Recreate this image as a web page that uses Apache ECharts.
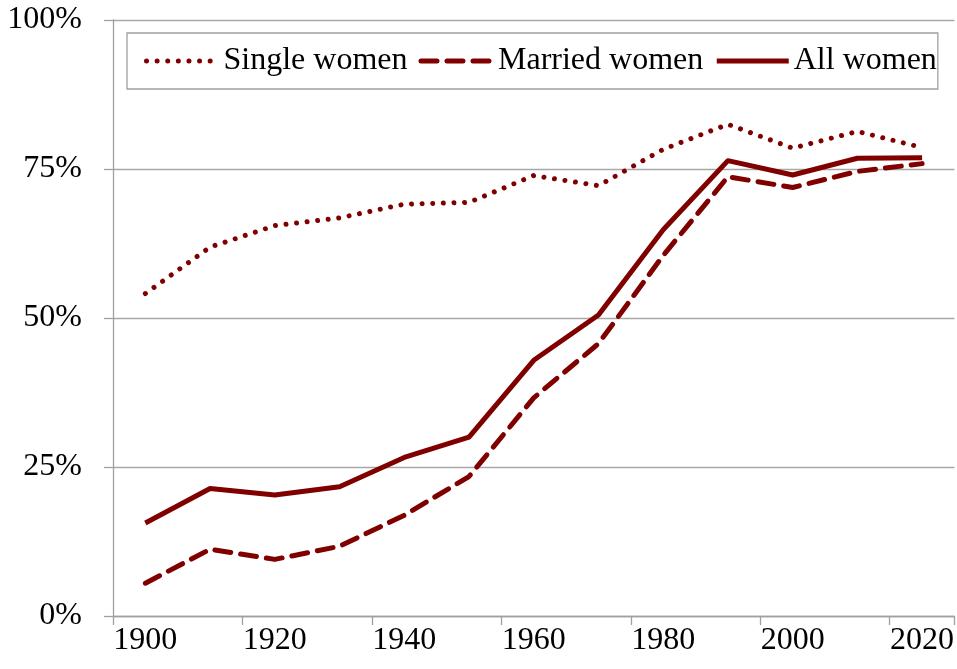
<!DOCTYPE html>
<html>
<head>
<meta charset="utf-8">
<script src="https://cdn.jsdelivr.net/npm/echarts@6/dist/echarts.min.js"></script>
<style>html,body{margin:0;padding:0;background:#fff}#c{width:957px;height:669px}</style>
</head>
<body>
<div id="c"></div>
<script>
const years = ['1900','1910','1920','1930','1940','1950','1960','1970','1980','1990','2000','2010','2020'];
const singleWomen  = [54.1, 61.9, 65.5, 66.8, 69.1, 69.4, 73.9, 72.2, 78.3, 82.5, 78.5, 81.3, 78.6];
const marriedWomen = [5.5, 11.2, 9.5, 11.7, 16.9, 23.4, 36.6, 45.7, 60.5, 73.7, 71.9, 74.6, 75.9];
const allWomen     = [15.6, 21.4, 20.3, 21.7, 26.6, 30.0, 42.9, 50.5, 64.8, 76.4, 74.0, 76.8, 76.9];
const yTicks = [0, 25, 50, 75, 100];

const red = '#800000';
const font = 'Liberation Serif, Times New Roman, serif';
const chart = echarts.init(document.getElementById('c'));
chart.setOption({
  animation: false,
  backgroundColor: '#fff',
  textStyle: { fontFamily: font },
  grid: { left: 113, right: 0, top: 20, bottom: 53 },
  legend: {
    left: 127, top: 33, width: 797,
    padding: [12, 1, 12, 17],
    borderColor: '#a0a0a0', borderWidth: 1.3,
    itemWidth: 72, itemHeight: 14, itemGap: 11,
    itemStyle: { color: 'transparent', borderWidth: 0, opacity: 0 },
    lineStyle: { width: 5 },
    textStyle: { fontFamily: font, fontSize: 32, color: '#000' },
    data: ['Single women', 'Married women', 'All women']
  },
  xAxis: {
    type: 'category',
    data: years,
    boundaryGap: true,
    axisLine: { lineStyle: { color: '#a0a0a0', width: 1.3 } },
    axisTick: { show: true, interval: 1, length: 9, lineStyle: { color: '#a0a0a0', width: 1.3 } },
    axisLabel: { interval: 1, margin: 9, fontFamily: font, fontSize: 32, color: '#000' },
    splitLine: { show: false }
  },
  yAxis: {
    type: 'value',
    min: yTicks[0], max: yTicks[yTicks.length - 1], interval: 25,
    axisLine: { show: true, lineStyle: { color: '#a0a0a0', width: 1.3 } },
    axisTick: { show: true, length: 9, lineStyle: { color: '#a0a0a0', width: 1.3 } },
    axisLabel: { margin: 31, fontFamily: font, fontSize: 32, color: '#000', formatter: v => v + '%' },
    splitLine: { show: true, lineStyle: { color: '#a8a8a8', width: 1.3 } }
  },
  series: [
    { name: 'Single women', type: 'line', data: singleWomen, symbol: 'none',
      lineStyle: { color: red, width: 5, type: [0.01, 10.6], cap: 'round' }, itemStyle: { color: red } },
    { name: 'Married women', type: 'line', data: marriedWomen, symbol: 'none',
      lineStyle: { color: red, width: 5, type: [16, 10], cap: 'round', join: 'round' }, itemStyle: { color: red } },
    { name: 'All women', type: 'line', data: allWomen, symbol: 'none',
      lineStyle: { color: red, width: 5, join: 'round' }, itemStyle: { color: red } }
  ]
});
</script>
</body>
</html>
